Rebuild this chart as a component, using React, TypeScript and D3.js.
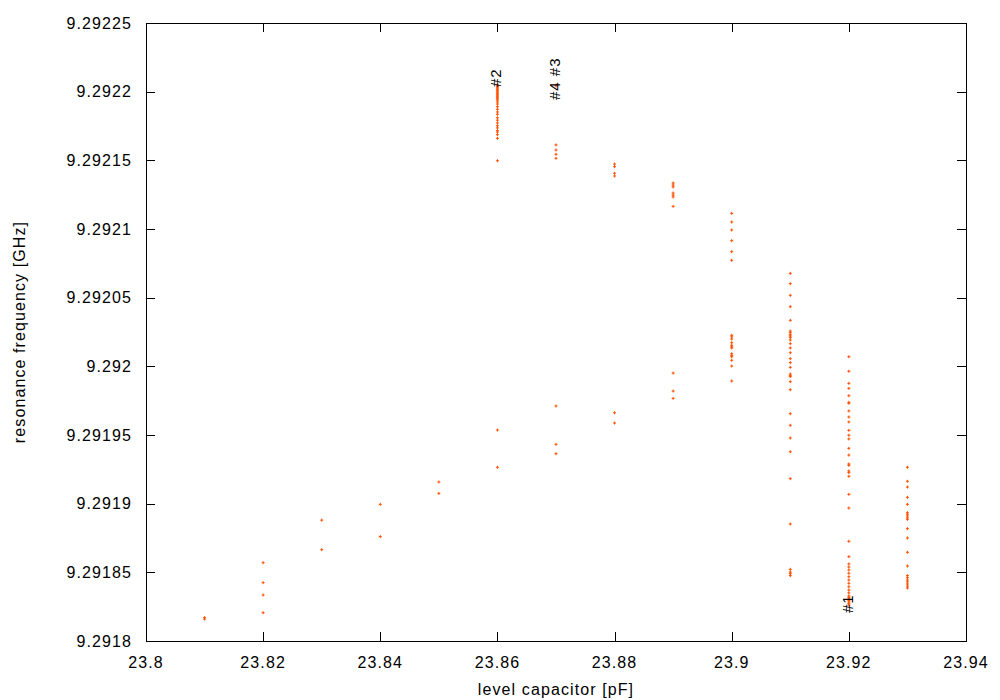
import * as React from 'react';
import * as d3 from 'd3';

// capacitor settings (pF) and the measured resonance frequencies (GHz) at each
const f2381 = [9.291817, 9.291816];
const f2382 = [9.291857, 9.2918425, 9.2918335, 9.2918206];
const f2383 = [9.291888, 9.2918665];
const f2384 = [9.2918995, 9.291876];
const f2385 = [9.2919158, 9.2919075];
const f2386 = [
  9.2922049, 9.2922041, 9.2922034, 9.2922027, 9.2922019, 9.2922012, 9.2922005,
  9.2921997, 9.292199, 9.2921983, 9.2921976, 9.2921968, 9.2921961, 9.2921954,
  9.2921946, 9.2921939, 9.2921925, 9.292191, 9.2921891, 9.2921872, 9.2921852,
  9.2921835, 9.292181, 9.2921792, 9.2921772, 9.2921752, 9.2921736, 9.2921716,
  9.2921706, 9.2921687, 9.292166, 9.2921497, 9.2919536, 9.2919265,
];
const f2387 = [9.2922049, 9.2922043, 9.2921612, 9.2921575, 9.2921544, 9.2921515, 9.2919711, 9.2919432, 9.2919364];
const f2388 = [9.2921473, 9.2921454, 9.2921406, 9.2921386, 9.2919662, 9.2919587];
const f2389 = [9.2921335, 9.292132, 9.2921306, 9.2921262, 9.2921247, 9.2921233, 9.2921165, 9.2919951, 9.291982, 9.2919767];
const f2390 = [
  9.2921114, 9.2921051, 9.2920993, 9.2920915, 9.2920835, 9.2920772,
  9.2920226, 9.2920214, 9.2920199, 9.2920172, 9.2920153, 9.2920141, 9.2920134,
  9.2920092, 9.292008, 9.292007, 9.2920044, 9.2920002, 9.2919893,
];
const f2391 = [
  9.2920677, 9.2920602, 9.2920517, 9.2920434, 9.2920335, 9.2920257, 9.2920245,
  9.292023, 9.2920221, 9.2920209, 9.2920192, 9.2920165, 9.2920134, 9.2920099,
  9.2920056, 9.2920027, 9.2919993, 9.2919944, 9.2919932, 9.2919925, 9.2919888,
  9.291983, 9.2919655, 9.2919571, 9.2919478, 9.2919378, 9.2919182, 9.2918852,
  9.2918522, 9.2918502, 9.291849, 9.2918476,
];
const f2392 = [
  9.292007, 9.2919964, 9.2919876, 9.291984, 9.2919786, 9.2919738, 9.2919731,
  9.2919675, 9.2919631, 9.2919595, 9.2919534, 9.2919498, 9.2919471, 9.2919403,
  9.2919354, 9.2919289, 9.2919279, 9.2919238, 9.2919226, 9.2919199, 9.2919068,
  9.2918968, 9.2918726, 9.2918614, 9.2918561, 9.2918539, 9.2918517, 9.2918493,
  9.2918468, 9.2918444, 9.291842, 9.2918395, 9.2918371, 9.291835, 9.2918328,
  9.2918317, 9.2918306, 9.2918295, 9.2918284, 9.2918273, 9.2918262,
];
const f2393 = [
  9.2919265, 9.2919163, 9.2919121, 9.2919046, 9.2918995, 9.2918934, 9.2918923,
  9.291891, 9.2918896, 9.2918886, 9.2918818, 9.291875, 9.2918646, 9.2918546,
  9.2918476, 9.2918461, 9.2918444, 9.291843, 9.2918415, 9.29184, 9.2918386,
];

const capacitors = [23.81, 23.82, 23.83, 23.84, 23.85, 23.86, 23.87, 23.88, 23.89, 23.9, 23.91, 23.92, 23.93];
const frequencies = [f2381, f2382, f2383, f2384, f2385, f2386, f2387, f2388, f2389, f2390, f2391, f2392, f2393];

const xTicks = [23.8, 23.82, 23.84, 23.86, 23.88, 23.9, 23.92, 23.94];
const xTickLabels = ['23.8', '23.82', '23.84', '23.86', '23.88', '23.9', '23.92', '23.94'];
const yTicks = [9.2918, 9.29185, 9.2919, 9.29195, 9.292, 9.29205, 9.2921, 9.29215, 9.2922, 9.29225];
const yTickLabels = ['9.2918', '9.29185', '9.2919', '9.29195', '9.292', '9.29205', '9.2921', '9.29215', '9.2922', '9.29225'];

const labelTexts = ['#2', '#4 #3', '#1'];
const labelX = [23.86, 23.87, 23.92];
const labelY = [9.2922034, 9.2921939, 9.2918204];

type Point = { c: number; f: number };

const points: Point[] = capacitors.flatMap((c, i) => frequencies[i].map(f => ({ c, f })));

const FONT = '"Liberation Sans", Arial, Helvetica, sans-serif';
const ORANGE = '#ff5000';

export default function App() {
  const left = 146, right = 966, top = 23, bottom = 641;
  const x = d3.scaleLinear().domain([23.8, 23.94]).range([left, right]);
  const y = d3.scaleLinear().domain([9.2918, 9.29225]).range([bottom, top]);
  const tick = 9;
  const arm = 1.5;

  const txt = { fontFamily: FONT, fontSize: 16, letterSpacing: 1.1 } as const;

  return (
    <svg width={1000} height={700} style={{ position: 'absolute', left: 0, top: 0, background: '#fff' }}>
      <rect x={0} y={0} width={1000} height={700} fill="#fff" />
      {/* frame and inward ticks on all four sides */}
      <g stroke="#000" strokeWidth={1} shapeRendering="crispEdges">
        <rect x={left} y={top} width={right - left} height={bottom - top} fill="none" />
        {xTicks.map(t => (
          <g key={'xt' + t}>
            <line x1={Math.round(x(t))} x2={Math.round(x(t))} y1={bottom} y2={bottom - tick} />
            <line x1={Math.round(x(t))} x2={Math.round(x(t))} y1={top} y2={top + tick} />
          </g>
        ))}
        {yTicks.map(t => (
          <g key={'yt' + t}>
            <line x1={left} x2={left + tick} y1={Math.round(y(t))} y2={Math.round(y(t))} />
            <line x1={right} x2={right - tick} y1={Math.round(y(t))} y2={Math.round(y(t))} />
          </g>
        ))}
      </g>
      {xTicks.map((t, i) => (
        <text key={'xl' + t} x={x(t)} y={668} textAnchor="middle" {...txt}>
          {xTickLabels[i]}
        </text>
      ))}
      {yTicks.map((t, i) => (
        <text key={'yl' + t} x={132} y={y(t)} dy="0.36em" textAnchor="end" {...txt}>
          {yTickLabels[i]}
        </text>
      ))}
      <text x={(left + right) / 2} y={695} textAnchor="middle" {...txt}>level capacitor [pF]</text>
      <text transform={`translate(25, ${(top + bottom) / 2}) rotate(-90)`} textAnchor="middle" {...txt}>
        resonance frequency [GHz]
      </text>
      {/* measurements */}
      <g stroke={ORANGE} strokeWidth={1}>
        {points.map((p, i) => {
          const cx = x(p.c);
          const cy = y(p.f);
          return (
            <path key={i} d={`M${cx - arm},${cy}H${cx + arm}M${cx},${cy - arm}V${cy + arm}`} />
          );
        })}
      </g>
      {/* run labels */}
      {labelTexts.map((s, i) => (
        <text
          key={'lab' + i}
          transform={`translate(${x(labelX[i])}, ${y(labelY[i])}) rotate(-90)`}
          dominantBaseline="middle"
          {...txt}
          fontSize={15}
          letterSpacing={1}
        >
          {s}
        </text>
      ))}
    </svg>
  );
}
